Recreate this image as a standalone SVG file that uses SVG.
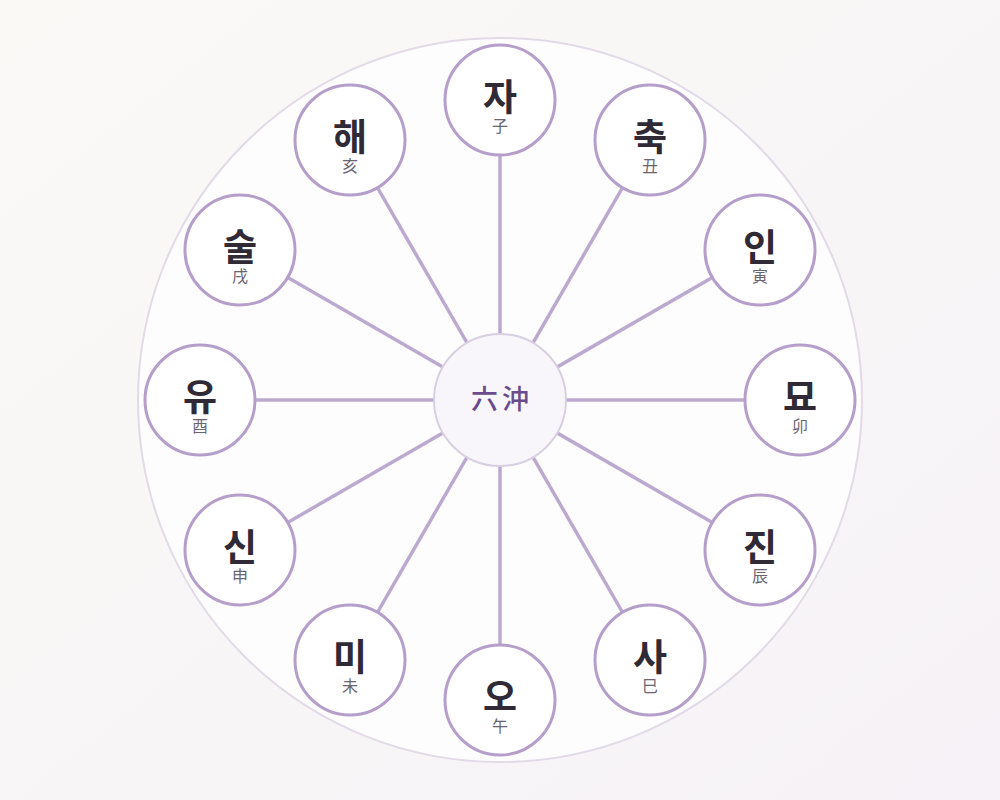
<svg xmlns="http://www.w3.org/2000/svg" width="1000" height="800" viewBox="0 0 1000 800">
<defs>
<linearGradient id="bg" x1="0" y1="0" x2="1" y2="1">
<stop offset="0" stop-color="#fbf9f6"/>
<stop offset="1" stop-color="#f6f2f7"/>
</linearGradient>
<style>
.node circle{fill:#ffffff;stroke:#b59fca;stroke-width:3}
.main{font-family:"Noto Sans CJK KR","Noto Sans",sans-serif;font-weight:700;font-size:37px;fill:#2f2a36;text-anchor:middle}
.sub{font-family:"Noto Sans CJK KR","Noto Sans CJK SC",sans-serif;font-size:16px;fill:#6b6572;text-anchor:middle}
#connectors line{stroke:#bca9cf;stroke-width:3.5}
</style>
</defs>
<rect width="1000" height="800" fill="url(#bg)"/>
<circle cx="500" cy="400" r="362" fill="#fefdfe" stroke="#e2dae7" stroke-width="2"/>
<g id="connectors">
<line x1="500" y1="400" x2="500" y2="100"/>
<line x1="500" y1="400" x2="650" y2="140"/>
<line x1="500" y1="400" x2="760" y2="250"/>
<line x1="500" y1="400" x2="800" y2="400"/>
<line x1="500" y1="400" x2="760" y2="550"/>
<line x1="500" y1="400" x2="650" y2="660"/>
<line x1="500" y1="400" x2="500" y2="700"/>
<line x1="500" y1="400" x2="350" y2="660"/>
<line x1="500" y1="400" x2="240" y2="550"/>
<line x1="500" y1="400" x2="200" y2="400"/>
<line x1="500" y1="400" x2="240" y2="250"/>
<line x1="500" y1="400" x2="350" y2="140"/>
</g>
<g id="center">
<circle cx="500" cy="400" r="66" fill="#f8f6fa" stroke="#d8cfe2" stroke-width="2"/>
<text x="502" y="409" font-family="Noto Sans CJK KR, Noto Sans CJK SC, sans-serif" font-weight="500" font-size="27" fill="#6a4c8c" text-anchor="middle" letter-spacing="4">六沖</text>
</g>
<g id="n-ja" class="node"><circle cx="500" cy="100" r="55"/><text class="main" x="500" y="111">자</text><text class="sub" x="500" y="132">子</text></g>
<g id="n-chuk" class="node"><circle cx="650" cy="140" r="55"/><text class="main" x="650" y="151">축</text><text class="sub" x="650" y="172">丑</text></g>
<g id="n-in" class="node"><circle cx="760" cy="250" r="55"/><text class="main" x="760" y="261">인</text><text class="sub" x="760" y="282">寅</text></g>
<g id="n-myo" class="node"><circle cx="800" cy="400" r="55"/><text class="main" x="800" y="411">묘</text><text class="sub" x="800" y="432">卯</text></g>
<g id="n-jin" class="node"><circle cx="760" cy="550" r="55"/><text class="main" x="760" y="561">진</text><text class="sub" x="760" y="582">辰</text></g>
<g id="n-sa" class="node"><circle cx="650" cy="660" r="55"/><text class="main" x="650" y="671">사</text><text class="sub" x="650" y="692">巳</text></g>
<g id="n-o" class="node"><circle cx="500" cy="700" r="55"/><text class="main" x="500" y="711">오</text><text class="sub" x="500" y="732">午</text></g>
<g id="n-mi" class="node"><circle cx="350" cy="660" r="55"/><text class="main" x="350" y="671">미</text><text class="sub" x="350" y="692">未</text></g>
<g id="n-sin" class="node"><circle cx="240" cy="550" r="55"/><text class="main" x="240" y="561">신</text><text class="sub" x="240" y="582">申</text></g>
<g id="n-yu" class="node"><circle cx="200" cy="400" r="55"/><text class="main" x="200" y="411">유</text><text class="sub" x="200" y="432">酉</text></g>
<g id="n-sul" class="node"><circle cx="240" cy="250" r="55"/><text class="main" x="240" y="261">술</text><text class="sub" x="240" y="282">戌</text></g>
<g id="n-hae" class="node"><circle cx="350" cy="140" r="55"/><text class="main" x="350" y="151">해</text><text class="sub" x="350" y="172">亥</text></g>
</svg>
